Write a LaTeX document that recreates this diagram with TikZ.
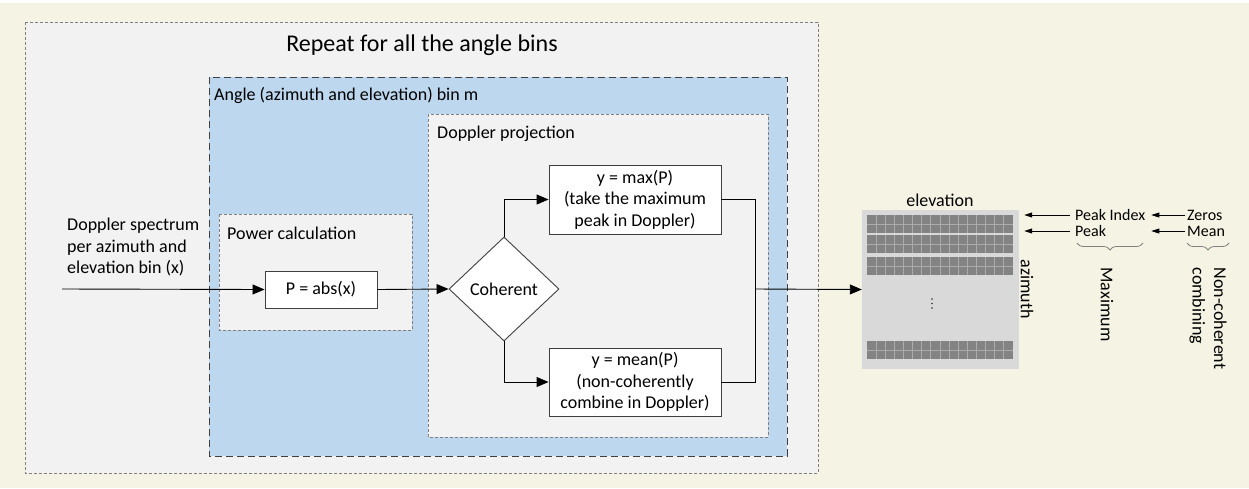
\documentclass[tikz,border=0pt]{standalone}
\usepackage{fontspec}
\setmainfont{Carlito}
\usetikzlibrary{shapes.geometric,arrows.meta,decorations.pathreplacing}

\definecolor{creambg}{HTML}{F5F4E4}
\definecolor{panelgray}{HTML}{F2F2F2}
\definecolor{binblue}{HTML}{BDD7EE}
\definecolor{gridgray}{HTML}{D9D9D9}
\definecolor{cellgray}{HTML}{838383}
\definecolor{seamgray}{HTML}{ABABAB}
\definecolor{linegray}{HTML}{3F3F3F}

\begin{document}
\begin{tikzpicture}[x=1pt, y=-1pt, >={Triangle[length=12pt,width=10pt]},
  font=\fontsize{18}{21.5}\selectfont,
  block/.style={draw=linegray, fill=white, line width=0.9pt, align=center, inner sep=2pt},
  flow/.style={->, line width=0.9pt},
  feed/.style={-{Triangle[length=8pt,width=5pt]}, line width=0.8pt},
  thinbox/.style={draw=gray, dash pattern=on 3pt off 2pt, line width=0.7pt, fill=panelgray},
  boxlabel/.style={anchor=west, inner sep=0pt},
  sidelabel/.style={font=\fontsize{16}{15}\selectfont, inner sep=0pt, anchor=west},
  sidebrace/.style={draw=gray, line width=0.8pt, decorate, decoration={brace,mirror,amplitude=7pt}}]

  \useasboundingbox (0,0) rectangle (1249,488);
  \fill[creambg] (0,3) rectangle (1249,488);

  % nested loop frames
  \draw[thinbox] (25,22) rectangle (818,473);
  \draw[draw=linegray, fill=binblue, line width=1pt, dash pattern=on 7pt off 4pt] (209,77) rectangle (787,456);
  \draw[thinbox] (219,214) rectangle (412,330);
  \draw[thinbox] (428,114) rectangle (768,437);

  \node (title) at (422,45) {\fontsize{24}{29}\selectfont Repeat for all the angle bins};
  \node[boxlabel] (binlbl) at (214,95) {Angle (azimuth and elevation) bin m};
  \node[boxlabel] (pwrlbl) at (227,233) {Power calculation};
  \node[boxlabel] (projlbl) at (437,134) {Doppler projection};

  % processing chain
  \coordinate (src) at (62,289);
  \node[boxlabel, align=left] (srclbl) at (67,247) {Doppler spectrum\\per azimuth and\\elevation bin (x)};
  \node[block, minimum width=112pt, minimum height=37pt] (pwr) at (321,289.5) {P = abs(x)};
  \node[diamond, draw=linegray, fill=white, line width=0.9pt, inner sep=0pt,
        minimum width=110pt, minimum height=104pt] (coh) at (504,289) {Coherent};
  \node[block, minimum width=172pt, minimum height=69pt] (ymax) at (635,199.5)
    {y = max(P)\\(take the maximum\\peak in Doppler)};
  \node[block, minimum width=172pt, minimum height=68pt] (ymean) at (635,382)
    {y = mean(P)\\(non-coherently\\combine in Doppler)};
  \coordinate (join) at (755,289);

  % detection matrix
  \node[fill=gridgray, minimum width=157pt, minimum height=159pt, inner sep=0pt] (mat) at (940.5,289.5) {};
  \foreach \r in {215,235,257,341} {
    \fill[cellgray] (867,\r) rectangle (1013,\r+18);
    \foreach \c in {1,...,15}
      \draw[seamgray, line width=1pt] (867+\c*9.125,\r) -- ++(0,18);
    \draw[seamgray, line width=1pt] (867,\r+9) -- (1013,\r+9);
  }
  \foreach \d in {299,303.5,308}
    \fill[black!80] (932,\d) circle (0.9);
  \node (elev) at (940,200) {elevation};
  \node[rotate=-90] (azi) at (1027,289) {azimuth};

  \draw[flow] (src) -- (pwr.west);
  \draw[flow] (pwr.east) -- (coh.west);
  \draw[flow] (coh.north) |- (ymax.west);
  \draw[flow] (coh.south) |- (ymean.west);
  \draw[line width=0.9pt] (ymax.east) -| (join) |- (ymean.east);
  \draw[flow] (join) -- (mat.west);

  % what gets stored per cell
  \node[sidelabel] (pkidx) at (1075,215) {Peak Index};
  \node[sidelabel] (pk) at (1075,231) {Peak};
  \node[sidelabel] (zer) at (1187,215) {Zeros};
  \node[sidelabel] (mn) at (1187,231) {Mean};
  \draw[feed] ([xshift=-5pt]pkidx.west) -- ([xshift=5pt]mat.east |- pkidx.west);
  \draw[feed] ([xshift=-5pt]pk.west) -- ([xshift=5pt]mat.east |- pk.west);
  \draw[feed] ([xshift=-2pt]zer.west) -- ([xshift=6pt]pkidx.east);
  \draw[feed] ([xshift=-2pt]mn.west) -- ([xshift=6pt]pkidx.east |- mn.west);
  \draw[sidebrace] (1077,243) -- (1143,243);
  \draw[sidebrace] (1187,243) -- (1229,243);
  \node[rotate=-90, anchor=west] (maxlbl) at (1107,264) {Maximum};
  \node[rotate=-90, anchor=west, align=left] (nclbl) at (1208,264) {Non-coherent\\combining};
\end{tikzpicture}
\end{document}
